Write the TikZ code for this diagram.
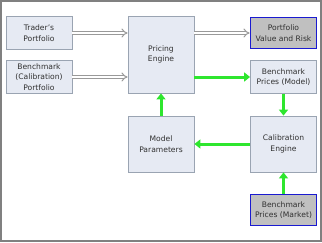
\documentclass[tikz,border=0pt]{standalone}
\usepackage{fontspec}
\setmainfont{DejaVu Sans}
\usetikzlibrary{arrows.meta,positioning}
\definecolor{boxfill}{HTML}{E6EAF3}
\definecolor{boxline}{HTML}{9AA4B2}
\definecolor{outfill}{HTML}{C0C0C0}
\definecolor{outline}{HTML}{1A1AD0}
\definecolor{flowgreen}{HTML}{2EE62E}
\definecolor{framegray}{HTML}{808080}
\definecolor{txtgray}{HTML}{303030}

\begin{document}
\begin{tikzpicture}[
  x=1pt, y=-1pt,
  font=\fontsize{7.6}{10.5}\selectfont,
  blk/.style={draw=boxline, fill=boxfill, line width=0.8pt, align=center,
    inner sep=0pt, minimum width=66pt, text=txtgray},
  outblk/.style={blk, draw=outline, fill=outfill, line width=1.8pt},
  dbl/.style={draw=gray!80, double=white, double distance=2pt, line width=1pt,
    -{Implies[length=5pt, width=9pt]}},
  grn/.style={draw=flowgreen, line width=3pt,
    -{Triangle[length=6pt, width=9pt]}}
]
% --- frame ---
\draw[framegray, line width=2.4pt, fill=white] (1.2,1.2) rectangle (320.8,240.8);

% --- inputs ---
\node[blk, minimum height=33pt] (trader) at (39,33) {Trader's\\Portfolio};
\node[blk, minimum height=33pt] (bench) at (39,77) {Benchmark\\(Calibration)\\Portfolio};

% --- engines ---
\node[blk, minimum height=77pt] (pricing) at (161,54.5) {Pricing\\Engine};
\node[blk, minimum height=56pt] (params) at (161,144) {Model\\Parameters};
\node[blk, minimum height=56pt] (calib) at (283.5,144) {Calibration\\Engine};

% --- prices and results ---
\node[outblk, minimum height=31pt] (value) at (283.5,33) {Portfolio\\Value and Risk};
\node[blk, minimum height=33pt] (bmodel) at (283.5,77) {Benchmark\\Prices (Model)};
\node[outblk, minimum height=31pt] (market) at (283.5,210) {Benchmark\\Prices (Market)};

% --- portfolio flow ---
\draw[dbl] (trader.east) -- (trader.east -| pricing.west);
\draw[dbl] (bench.east) -- (bench.east -| pricing.west);
\draw[dbl] (pricing.east |- value.west) -- (value.west);

% --- calibration loop ---
\draw[grn] (pricing.east |- bmodel.west) -- (bmodel.west);
\draw[grn] (bmodel.south) -- (calib.north);
\draw[grn] (calib.west) -- (params.east);
\draw[grn] (params.north) -- (pricing.south);
\draw[grn] (market.north) -- (calib.south);
\end{tikzpicture}
\end{document}
